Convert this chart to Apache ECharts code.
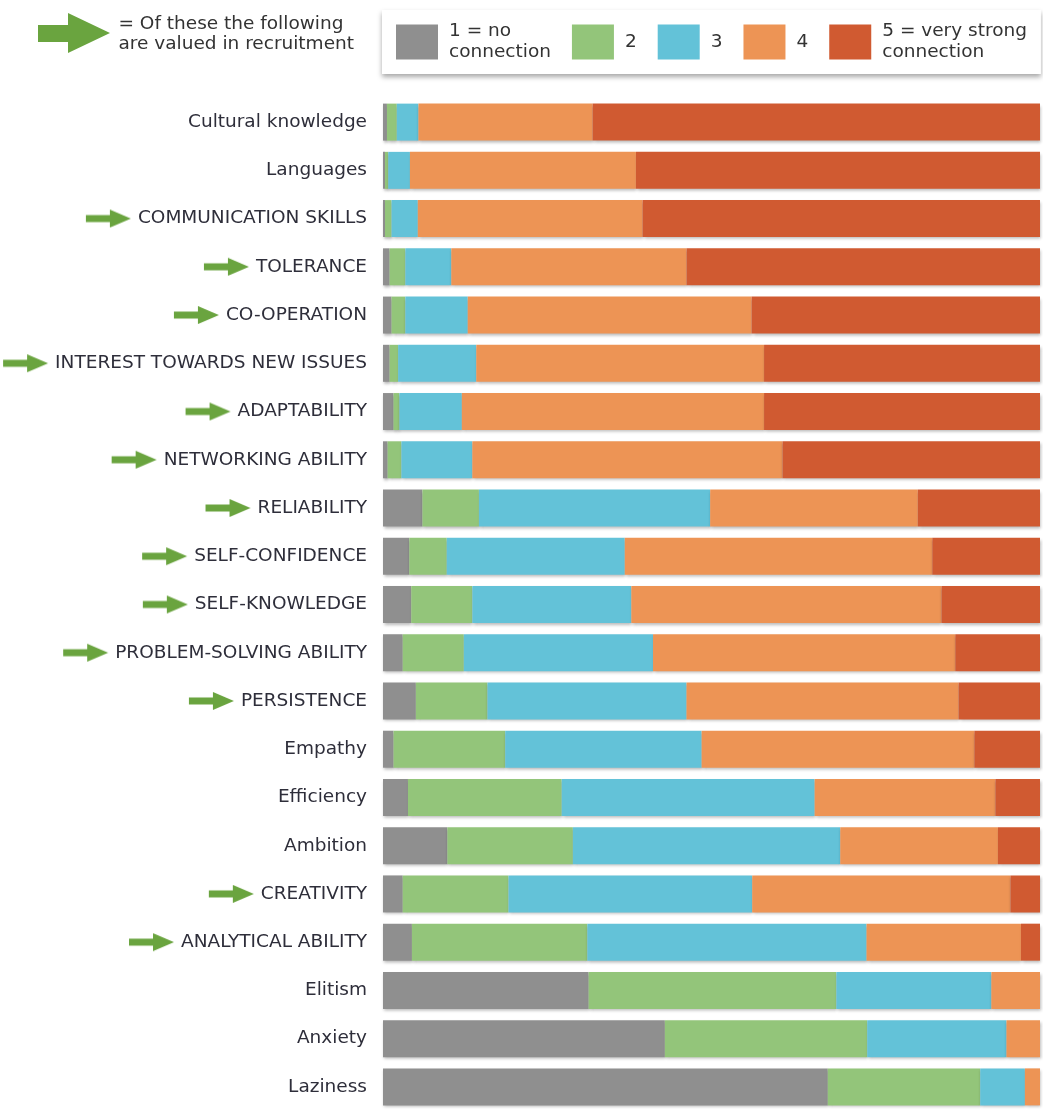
<!DOCTYPE html>
<html>
<head>
<meta charset="utf-8">
<script src="https://cdn.jsdelivr.net/npm/echarts@6/dist/echarts.min.js"></script>
<style>html,body{margin:0;padding:0;background:#fff;}#c{width:1043px;height:1111px;}</style>
</head>
<body>
<div id="c"></div>
<script>
const categories = ['Cultural knowledge','Languages','COMMUNICATION SKILLS','TOLERANCE','CO-OPERATION','INTEREST TOWARDS NEW ISSUES','ADAPTABILITY','NETWORKING ABILITY','RELIABILITY','SELF-CONFIDENCE','SELF-KNOWLEDGE','PROBLEM-SOLVING ABILITY','PERSISTENCE','Empathy','Efficiency','Ambition','CREATIVITY','ANALYTICAL ABILITY','Elitism','Anxiety','Laziness'];
const valuedInRecruitment = [false,false,true,true,true,true,true,true,true,true,true,true,true,false,false,false,true,true,false,false,false];
const seriesNames = ['1 = no\nconnection','2','3','4','5 = very strong\nconnection'];
const s1 = [0.6,0.3,0.3,1.0,1.3,1.0,1.6,0.7,6.0,4.0,4.3,3.0,5.0,1.6,3.8,9.8,3.0,4.4,31.3,42.9,67.7];
const s2 = [1.5,0.5,1.0,2.4,2.1,1.3,0.9,2.1,8.6,5.7,9.3,9.3,10.9,17.0,23.4,19.1,16.1,26.7,37.7,30.8,23.2];
const s3 = [3.3,3.3,4.0,7.0,9.5,11.9,9.5,10.8,35.2,27.1,24.2,28.8,30.3,29.9,38.5,40.7,37.1,42.5,23.6,21.2,6.8];
const s4 = [26.5,34.4,34.2,35.8,43.2,43.8,46.0,47.2,31.6,46.8,47.2,46.0,41.4,41.5,27.5,24.0,39.3,23.5,7.4,5.1,2.3];
const s5 = [68.1,61.5,60.5,53.8,43.9,42.0,42.0,39.2,18.6,16.4,15.0,12.9,12.4,10.0,6.8,6.4,4.5,2.9,0,0,0];
const colors = ['#8f8f8f','#93c57a','#63c2d8','#ed9455','#d05a31'];
const arrowGreen = '#6aa43f';
const FONT = '"DejaVu Sans"';
const FS = 18.5;

function makeArrow(w, h, shaftH, headW) {
  const cv = document.createElement('canvas');
  cv.width = w; cv.height = h;
  const ctx = cv.getContext('2d');
  ctx.fillStyle = arrowGreen;
  const cy = h / 2;
  ctx.beginPath();
  ctx.moveTo(0, cy - shaftH / 2);
  ctx.lineTo(w - headW, cy - shaftH / 2);
  ctx.lineTo(w - headW, 0);
  ctx.lineTo(w, cy);
  ctx.lineTo(w - headW, h);
  ctx.lineTo(w - headW, cy + shaftH / 2);
  ctx.lineTo(0, cy + shaftH / 2);
  ctx.closePath();
  ctx.fill();
  return cv;
}
const smallArrow = makeArrow(45, 18, 7, 21);

const chart = echarts.init(document.getElementById('c'));
const data = [s1, s2, s3, s4, s5];
const series = seriesNames.map((n, i) => ({
  name: n,
  type: 'bar',
  stack: 'total',
  barWidth: 37,
  data: data[i],
  itemStyle: {color: colors[i], shadowColor: 'rgba(0,0,0,0.28)', shadowBlur: 3, shadowOffsetY: 2, shadowOffsetX: 1},
  emphasis: {disabled: true}
}));

chart.setOption({
  animation: false,
  textStyle: {fontFamily: FONT},
  grid: {left: 383, right: 3, top: 98, height: 1022, containLabel: false},
  legend: {
    left: 382, top: 10,
    padding: [11, 14, 11, 14],
    backgroundColor: '#fff',
    shadowColor: 'rgba(0,0,0,0.35)', shadowBlur: 5, shadowOffsetY: 3,
    itemWidth: 42, itemHeight: 35, itemGap: 21,
    icon: 'rect',
    selectedMode: false,
    textStyle: {fontSize: FS, color: '#333', lineHeight: 21, padding: [0, 0, 0, 6], fontFamily: FONT},
    data: seriesNames
  },
  graphic: [
    {type: 'polygon', shape: {points: [[38,25],[68,25],[68,13],[110,33],[68,53],[68,42],[38,42]]}, style: {fill: arrowGreen}},
    {type: 'text', right: 1043 - 354, top: 14, style: {text: '= Of these the following\nare valued in recruitment', fill: '#333', font: FS + 'px ' + FONT, align: 'right', lineHeight: 20}}
  ],
  xAxis: {type: 'value', min: 0, max: 100, show: false},
  yAxis: {
    type: 'category', data: categories, inverse: true,
    axisLine: {show: false}, axisTick: {show: false},
    axisLabel: {
      margin: 16, fontSize: FS, color: '#2e2e3a', fontFamily: FONT,
      formatter: function (v, idx) {
        return valuedInRecruitment[idx] ? '{a| }{g| }{t|' + v + '}' : '{t|' + v + '}';
      },
      rich: {
        a: {width: 45, height: 18, backgroundColor: {image: smallArrow}},
        g: {width: 7},
        t: {fontSize: FS, color: '#2e2e3a', fontFamily: FONT}
      }
    }
  },
  series: series
});
</script>
</body>
</html>
